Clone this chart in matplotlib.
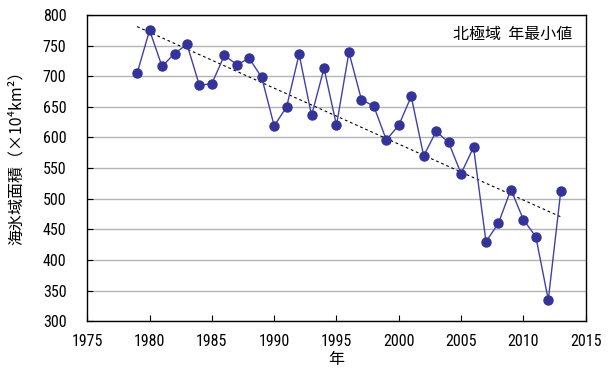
import numpy as np
import matplotlib
matplotlib.use('Agg')
import matplotlib.pyplot as plt

plt.rcParams['font.family'] = ['Roboto Condensed', 'Noto Sans CJK JP', 'DejaVu Sans']

years = list(range(1979, 2014))
extent = [705, 775, 716, 737, 752, 685, 688, 734, 719, 729,
          698, 619, 650, 736, 636, 713, 620, 739, 662, 651,
          596, 620, 667, 570, 610, 592, 541, 584, 430, 460,
          515, 466, 438, 335, 512]

fig = plt.figure(figsize=(6.13, 3.74), dpi=100)
ax = fig.add_axes([0.1424, 0.141, 0.813, 0.819])

# trend line (least squares, like the excel trendline)
coef = np.polyfit(years, extent, 1)
trend = np.polyval(coef, years)
ax.plot(years, trend, color='black', linestyle=(0, (2.5, 2.5)), linewidth=0.8, zorder=2)

ax.plot(years, extent, color='#4040a8', linewidth=1.0, marker='o', markersize=6.5,
        markerfacecolor='#333399', markeredgecolor='#333399', zorder=3)

ax.set_xlim(1975, 2015)
ax.set_ylim(300, 800)
ax.set_xticks(range(1975, 2016, 5))
ax.set_yticks(range(300, 801, 50))
ax.yaxis.grid(True, color='#b4b4b4', linewidth=1)
ax.set_axisbelow(True)
ax.tick_params(axis='both', labelsize=11.5, direction='in', length=4, color='black')
ax.tick_params(axis='y', pad=15)
ax.tick_params(axis='x', pad=9)
for s in ax.spines.values():
    s.set_color('black')
    s.set_linewidth(1)

ax.set_xlabel('年', fontsize=11.5, labelpad=2)
ax.set_ylabel('海氷域面積（×10⁴km²）', fontsize=11.5, family=['Noto Sans CJK JP', 'DejaVu Sans'])
ax.yaxis.set_label_coords(-0.125, 0.546)
ax.text(0.9725, 0.935, '北極域  年最小値', transform=ax.transAxes, ha='right', va='center', fontsize=11.5)

fig.savefig('out.png', dpi=100)
